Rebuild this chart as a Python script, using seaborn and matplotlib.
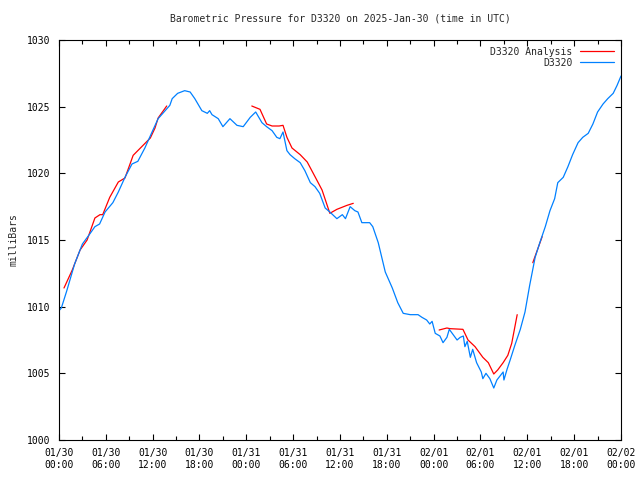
import matplotlib
matplotlib.use("Agg")
import matplotlib.pyplot as plt
import matplotlib.dates as mdates
import seaborn as sns
import pandas as pd

# hours since 2025-01-30 00:00 UTC and pressure (mb)
obs_hours = [0.0, 0.3, 1.0, 2.0, 3.0, 4.0, 4.6, 5.2, 5.9, 6.9, 7.6, 8.45, 9.35, 10.1,
             11.0, 12.0, 12.7, 13.6, 14.2, 14.5, 15.2, 16.1, 16.8, 17.4, 18.3, 19.0,
             19.3, 19.6, 20.4, 21.0, 21.9, 22.8, 23.6, 24.5, 25.2, 26.0, 26.6, 27.3,
             27.9, 28.3, 28.7, 29.2, 29.6, 30.2, 30.9, 31.5, 32.2, 32.8, 33.4, 34.1,
             34.7, 35.6, 36.3, 36.7, 37.3, 37.9, 38.3, 38.8, 39.8, 40.2, 40.9, 41.8,
             42.7, 43.4, 44.1, 45.0, 46.0, 46.5, 47.1, 47.5, 47.8, 48.2, 48.8, 49.2,
             49.7, 50.0, 50.5, 51.0, 51.4, 51.8, 52.0, 52.3, 52.7, 53.0, 53.5, 54.1,
             54.3, 54.7, 55.2, 55.7, 56.1, 56.5, 56.9, 57.0, 57.4, 57.8, 58.4, 59.1,
             59.7, 60.3, 61.0, 61.6, 62.3, 62.9, 63.5, 63.9, 64.6, 65.2, 65.8, 66.5,
             67.1, 67.8, 68.4, 69.0, 69.7, 70.3, 71.0, 71.5, 72.0]
obs_mb = [1009.7, 1009.9, 1011.2, 1013.2, 1014.7, 1015.5, 1016.0, 1016.2, 1017.1, 1017.8,
          1018.6, 1019.7, 1020.7, 1020.9, 1021.9, 1023.2, 1024.1, 1024.7, 1025.1, 1025.6,
          1026.0, 1026.2, 1026.1, 1025.6, 1024.7, 1024.5, 1024.7, 1024.4, 1024.1, 1023.5,
          1024.1, 1023.6, 1023.5, 1024.2, 1024.6, 1023.8, 1023.5, 1023.2, 1022.7, 1022.6,
          1023.1, 1021.7, 1021.4, 1021.1, 1020.8, 1020.2, 1019.3, 1019.0, 1018.5, 1017.4,
          1017.1, 1016.6, 1016.9, 1016.6, 1017.5, 1017.2, 1017.1, 1016.3, 1016.3, 1016.0,
          1014.8, 1012.6, 1011.4, 1010.3, 1009.5, 1009.4, 1009.4, 1009.2, 1009.0, 1008.7,
          1008.9, 1008.0, 1007.8, 1007.3, 1007.7, 1008.3, 1007.9, 1007.5, 1007.7, 1007.8,
          1007.0, 1007.4, 1006.2, 1006.8, 1005.8, 1005.1, 1004.6, 1005.0, 1004.6, 1003.9,
          1004.5, 1004.8, 1005.1, 1004.5, 1005.3, 1006.0, 1007.1, 1008.3, 1009.6, 1011.6,
          1013.7, 1014.8, 1016.0, 1017.2, 1018.1, 1019.3, 1019.7, 1020.5, 1021.4, 1022.3,
          1022.7, 1023.0, 1023.7, 1024.6, 1025.2, 1025.6, 1026.0, 1026.6, 1027.3]

# analysis runs, each its own segment
ana_seg = [1] * 16 + [2] * 16 + [3] * 14 + [4] * 2
ana_hours = [0.64, 1.7, 2.7, 3.6, 4.6, 5.25, 5.6, 6.5, 7.6, 8.45, 9.5, 10.6, 11.7, 12.3, 12.7, 13.8,
             24.7, 25.75, 26.6, 27.3, 28.2, 28.7, 29.2, 29.85, 30.9, 31.8, 32.8, 33.7, 34.7, 35.6, 36.9, 37.7,
             48.7, 49.7, 50.1, 51.75, 52.4, 53.3, 54.3, 55.0, 55.7, 56.2, 56.9, 57.5, 58.0, 58.7,
             60.7, 61.9]
ana_mb = [1011.4, 1012.75, 1014.25, 1015.0, 1016.65, 1016.9, 1016.9, 1018.2, 1019.35, 1019.65,
          1021.35, 1022.0, 1022.65, 1023.4, 1024.15, 1025.05,
          1025.05, 1024.8, 1023.7, 1023.55, 1023.55, 1023.6, 1022.7, 1021.9, 1021.4, 1020.85,
          1019.75, 1018.75, 1017.0, 1017.3, 1017.6, 1017.75,
          1008.25, 1008.4, 1008.35, 1008.3, 1007.5, 1007.0, 1006.2, 1005.8, 1004.95, 1005.25,
          1005.8, 1006.35, 1007.25, 1009.4,
          1013.3, 1015.25]

start = pd.Timestamp("2025-01-30 00:00")
obs = pd.DataFrame({"time": start + pd.to_timedelta(obs_hours, unit="h"), "mb": obs_mb})
ana = pd.DataFrame({"time": start + pd.to_timedelta(ana_hours, unit="h"), "mb": ana_mb,
                    "seg": ana_seg})

sns.set_style("ticks")
plt.rcParams["font.family"] = ["DejaVu Sans Mono"]
plt.rcParams["font.size"] = 7

fig = plt.figure(figsize=(6.4, 4.8), dpi=100)
ax = fig.add_axes([59 / 640, 40 / 480, 562 / 640, 400 / 480])

sns.lineplot(data=ana, x="time", y="mb", units="seg", estimator=None, color="#ff0000",
             linewidth=0.9, ax=ax, label="D3320 Analysis")
sns.lineplot(data=obs, x="time", y="mb", color="#0080ff", linewidth=0.9, ax=ax, label="D3320")

ax.set_xlim(start, start + pd.Timedelta(hours=72))
ax.set_ylim(1000, 1030)
ax.set_yticks(range(1000, 1031, 5))
ax.xaxis.set_major_locator(mdates.HourLocator(byhour=[0, 6, 12, 18]))
ax.xaxis.set_minor_locator(mdates.HourLocator(byhour=[3, 9, 15, 21]))
ax.xaxis.set_major_formatter(mdates.DateFormatter("%m/%d\n%H:%M"))
ax.tick_params(which="both", direction="in", top=True, right=True, colors="black",
               labelsize=7, width=0.8)
ax.tick_params(which="major", length=4, pad=6)
ax.tick_params(which="minor", length=3)
for s in ax.spines.values():
    s.set_visible(True)
    s.set_linewidth(0.8)
    s.set_color("black")

ax.set_xlabel("")
ax.set_ylabel("milliBars", fontsize=7, labelpad=6)
ax.set_title("Barometric Pressure for D3320 on 2025-Jan-30 (time in UTC)", fontsize=7, pad=13)

# one legend entry per series
handles, labels = ax.get_legend_handles_labels()
uniq = dict(zip(labels, handles))
ax.legend(list(uniq.values()), list(uniq.keys()), loc="upper right", frameon=False,
          markerfirst=False, fontsize=7, handlelength=3.5, labelspacing=0.1,
          borderaxespad=0.3)

fig.savefig("out.png", dpi=100)
